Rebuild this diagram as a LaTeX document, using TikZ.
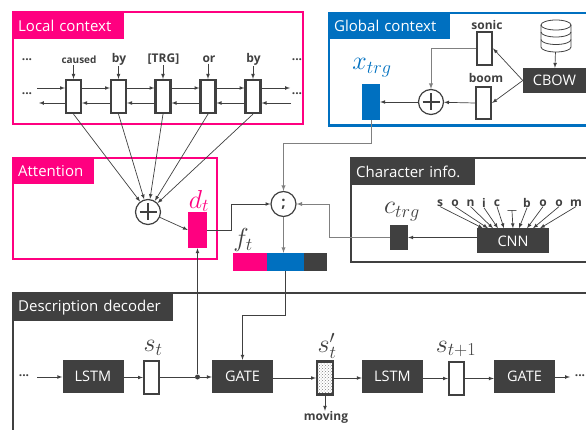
\documentclass[tikz,border=0pt]{standalone}
\usepackage{fontspec}
\usepackage{fix-cm}
\setmainfont{Open Sans}
\usetikzlibrary{patterns}
\definecolor{pink}{HTML}{FF0080}
\definecolor{blue}{HTML}{0070C0}
\definecolor{dark}{HTML}{404040}
\tikzset{
  paneltitle/.style={fill=#1,text=white,anchor=north west,inner xsep=6pt,inner ysep=0pt,minimum height=27pt,align=left,font=\fontsize{15}{17}\selectfont},
  cell/.style={draw=dark,fill=white,line width=2.2pt,inner sep=0pt,minimum width=15pt,minimum height=33pt},
  vec/.style={fill=#1,inner sep=0pt,minimum width=18pt},
  block/.style={fill=dark,text=white,inner sep=0pt,minimum height=33pt,minimum width=61pt,font=\fontsize{14.5}{16}\selectfont},
  word/.style={text=dark,inner sep=0pt,font=\bfseries\fontsize{12}{14}\selectfont},
  mathlabel/.style={inner sep=0pt,font=\fontsize{#1}{28}\selectfont},
  plusnode/.style={circle,draw=dark,fill=white,line width=1.2pt,minimum size=25pt,inner sep=0pt,
    path picture={\draw[dark,line width=1.2pt] ([yshift=-4pt]path picture bounding box.north) -- ([yshift=4pt]path picture bounding box.south)
      ([xshift=4pt]path picture bounding box.west) -- ([xshift=-4pt]path picture bounding box.east);}},
  conn/.style={-latex,draw=dark,line width=0.7pt},
  greyconn/.style={-latex,draw=gray,line width=0.9pt}
}
\begin{document}
\begin{tikzpicture}[x=1pt,y=-1pt]
  \useasboundingbox (0,0) rectangle (586,430);
  % panels
  \draw[pink,line width=2.4pt] (13,12) rectangle (303,124);
  \draw[blue,line width=2.4pt] (586,13) -- (329,13) -- (329,125.5) -- (586,125.5);
  \draw[pink,line width=2pt] (12.5,158) rectangle (217,259);
  \draw[dark,line width=2pt] (586,158.5) -- (350.5,158.5) -- (350.5,262) -- (586,262);
  \draw[dark,line width=2pt] (13,430) -- (13,293) -- (586,293);
  \node[paneltitle=pink,text width=100pt] (localtitle) at (12,12) {Local context};
  \node[paneltitle=blue,text width=110pt] (globaltitle) at (328,12) {Global context};
  \node[paneltitle=pink,minimum height=26pt,text width=70pt] (attntitle) at (12,158) {Attention};
  \node[paneltitle=dark,text width=113pt] (chartitle) at (350,158) {Character info.};
  \node[paneltitle=dark,minimum height=28pt,text width=149pt] (dectitle) at (12,293) {Description decoder};
  % local context
  \node[word] (dots1) at (27,60) {...};
  \node[word] (dots2) at (27,94) {...};
  \node[word] (dots3) at (297,60) {...};
  \node[word] (dots4) at (297,94) {...};
  \node[cell] (c1) at (73.5,96.5) {};
  \node[cell] (c2) at (118.5,96.5) {};
  \node[cell] (c3) at (163,96.5) {};
  \node[cell] (c4) at (208,96.5) {};
  \node[cell] (c5) at (253,96.5) {};
  \node[word,font=\bfseries\fontsize{10}{12}\selectfont] (caused) at (79,60) {caused};
  \node[word] (by1) at (119,59) {by};
  \node[word] (trg) at (163.5,59) {[TRG]};
  \node[word] (or) at (209,59) {or};
  \node[word] (by2) at (253.5,59) {by};
  \coordinate (lin) at (37,88);
  \coordinate (lout) at (39,103);
  \coordinate (rout) at (290,88);
  \coordinate (rin) at (291,103);
  \begin{scope}[conn]
    \draw (c1.north |- caused.south) ++(0,1) -- (c1.north);
    \draw (c2.north |- by1.south) ++(0,1) -- (c2.north);
    \draw (c3.north |- trg.south) ++(0,1) -- (c3.north);
    \draw (c4.north |- or.south) ++(0,1) -- (c4.north);
    \draw (c5.north |- by2.south) ++(0,1) -- (c5.north);
    \draw (lin) -- (lin -| c1.west);
    \draw (c1.east |- lin) -- (c2.west |- lin);
    \draw (c2.east |- lin) -- (c3.west |- lin);
    \draw (c3.east |- lin) -- (c4.west |- lin);
    \draw (c4.east |- lin) -- (c5.west |- lin);
    \draw (c5.east |- lin) -- (rout);
    \draw (rin) -- (rin -| c5.east);
    \draw (c5.west |- rin) -- (c4.east |- rin);
    \draw (c4.west |- rin) -- (c3.east |- rin);
    \draw (c3.west |- rin) -- (c2.east |- rin);
    \draw (c2.west |- rin) -- (c1.east |- rin);
    \draw (c1.west |- lout) -- (lout);
  \end{scope}
  % attention
  \node[plusnode] (aplus) at (148,212) {};
  \node[vec=pink,minimum width=19pt,minimum height=36pt] (dt) at (197.5,230) {};
  \node[mathlabel=26,text=pink] (dtlabel) at (199,201) {$d_t$};
  \begin{scope}[conn]
    \draw (c1.south) -- (aplus);
    \draw (c2.south) -- (aplus);
    \draw (c3.south) -- (aplus);
    \draw (c4.south) -- (aplus);
    \draw (c5.south) -- (aplus);
    \draw (aplus) -- (dt.west);
  \end{scope}
  % global context
  \node[vec=blue,minimum height=36pt] (xtrg) at (371,102) {};
  \node[mathlabel=26,text=blue] (xlabel) at (372,68) {$x_{trg}$};
  \node[plusnode] (gplus) at (431,102) {};
  \node[cell,minimum height=33pt] (sonic) at (484.5,48.5) {};
  \node[cell,minimum height=32pt] (boom) at (483.5,103) {};
  \node[word] (sonicw) at (487,25) {sonic};
  \node[word] (boomw) at (486,78) {boom};
  \node[block,minimum width=63pt,minimum height=25pt] (cbow) at (554.5,80.5) {CBOW};
  \node[inner sep=0pt,minimum width=30pt,minimum height=32pt] (db) at (556,36) {};
  \draw[dark,line width=0.8pt,fill=white] (541,25) arc[x radius=15,y radius=5,start angle=180,end angle=360] -- (571,47)
    arc[x radius=15,y radius=5,start angle=0,end angle=180] -- cycle;
  \draw[dark,line width=0.8pt] (541,25) arc[x radius=15,y radius=5,start angle=180,end angle=0]
    (541,32) arc[x radius=15,y radius=5,start angle=180,end angle=0]
    (541,39.5) arc[x radius=15,y radius=5,start angle=180,end angle=0];
  \begin{scope}[conn]
    \draw (db) -- (cbow);
    \draw (cbow.west) -- (sonic.east);
    \draw (cbow.west) -- (boom.east);
    \draw (boom.west) -- (gplus);
    \draw (gplus) -- (xtrg.east);
  \end{scope}
  \draw[greyconn] (sonic.west) -| (gplus.north);
  % character info
  \node[vec=dark,minimum height=25pt] (ctrg) at (399,237.5) {};
  \node[mathlabel=26,text=dark] (clabel) at (402,212) {$c_{trg}$};
  \node[block,minimum width=72pt,minimum height=25pt] (cnn) at (513,241) {CNN};
  \node[word] (ch1) at (440,203) {s};
  \node[word] (ch2) at (455,203) {o};
  \node[word] (ch3) at (470.5,203) {n};
  \node[word] (ch4) at (484,203) {i};
  \node[word] (ch5) at (497,203) {c};
  \node[word] (ch6) at (512,210) {\_\kern-1pt\_};
  \node[word] (ch7) at (527,203) {b};
  \node[word] (ch8) at (543,203) {o};
  \node[word] (ch9) at (559,203) {o};
  \node[word] (ch10) at (576,203) {m};
  \begin{scope}[conn]
    \draw (ch1.south) -- ([xshift=-30pt]cnn.north);
    \draw (ch2.south) -- ([xshift=-25pt]cnn.north);
    \draw (ch3.south) -- ([xshift=-20pt]cnn.north);
    \draw (ch4.south) -- ([xshift=-15pt]cnn.north);
    \draw (ch5.south) -- ([xshift=-9pt]cnn.north);
    \draw (ch6.south) -- (cnn.north);
    \draw (ch7.south) -- ([xshift=6pt]cnn.north);
    \draw (ch8.south) -- ([xshift=14pt]cnn.north);
    \draw (ch9.south) -- ([xshift=20pt]cnn.north);
    \draw (ch10.south) -- ([xshift=27pt]cnn.north);
    \draw (cnn.west |- ctrg) -- (ctrg.east);
  \end{scope}
  % merge
  \node[circle,draw=dark,fill=white,line width=1.2pt,minimum size=25pt,inner sep=0pt,text=dark,font=\bfseries\fontsize{15}{17}\selectfont] (semi) at (283.5,204) {;};
  \node[fill=pink,inner sep=0pt,minimum width=34pt,minimum height=18pt] (fpink) at (250,262) {};
  \node[fill=blue,inner sep=0pt,minimum width=37pt,minimum height=18pt] (fblue) at (285.5,262) {};
  \node[fill=dark,inner sep=0pt,minimum width=23pt,minimum height=18pt] (fdark) at (315.5,262) {};
  \node[mathlabel=26,text=dark] (flabel) at (243,240) {$f_t$};
  \draw[greyconn] (xtrg.south) -- ++(0,23) -| (semi.north);
  \draw[conn] (dt.east) -- ++(24,0) |- (semi.west);
  \draw[greyconn] (ctrg.west) -- ++(-60,0) |- (semi.east);
  \draw[greyconn] (semi.south) -- (semi.south |- fblue.north);
  % decoder
  \node[word] (dots5) at (24,376) {...};
  \node[word] (dots6) at (580,376) {...};
  \coordinate (din) at (37,377);
  \coordinate (dout) at (570,377);
  \node[block] (lstm1) at (93,376.5) {LSTM};
  \node[cell,minimum height=33pt] (st) at (151.5,377.5) {};
  \node[mathlabel=26,text=dark] (stlabel) at (153,348) {$s_t$};
  \node[block] (gate1) at (242.5,376.5) {GATE};
  \node[circle,fill=dark,inner sep=0pt,minimum size=5pt] (split) at (197.5,377) {};
  \node[cell,minimum width=16pt,minimum height=33pt,pattern=crosshatch dots,pattern color=gray] (sprime) at (325,378) {};
  \node[mathlabel=26,text=dark] (splabel) at (327,346) {$s'_t$};
  \node[word] (moving) at (326,417) {moving};
  \node[block] (lstm2) at (392.5,376.5) {LSTM};
  \node[cell,minimum height=33pt] (stt) at (456.5,378.5) {};
  \node[mathlabel=26,text=dark] (sttlabel) at (456,349) {$s_{t+1}$};
  \node[block] (gate2) at (524.5,376.5) {GATE};
  \begin{scope}[conn]
    \draw (din) -- (lstm1.west |- din);
    \draw (lstm1.east |- st) -- (st.west);
    \draw (st.east |- split) -- (split) -- (gate1.west |- split);
    \draw (split) -- (dt.south);
    \draw (gate1.east |- sprime) -- (sprime.west);
    \draw (sprime.east) -- (lstm2.west |- sprime);
    \draw (sprime.south) -- (moving.north -| sprime.south);
    \draw (lstm2.east |- stt) -- (stt.west);
    \draw (stt.east) -- (gate2.west |- stt);
    \draw (gate2.east |- dout) -- (dout);
    \draw (fblue.south) -- ++(0,44) -| (gate1.north);
  \end{scope}
\end{tikzpicture}
\end{document}
